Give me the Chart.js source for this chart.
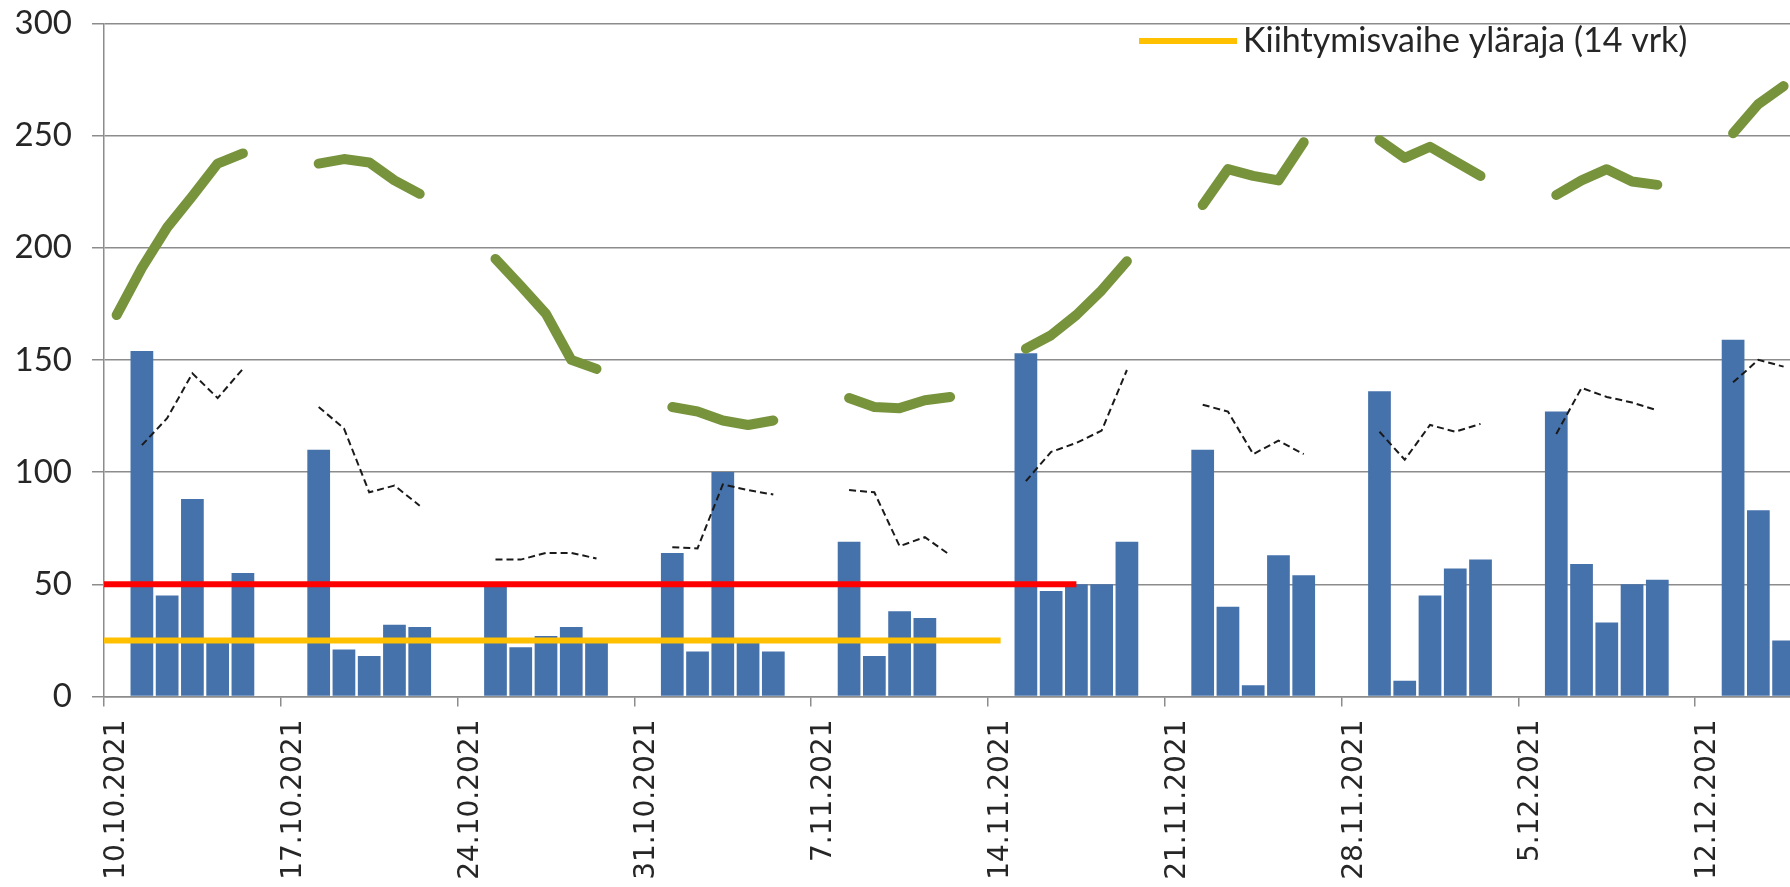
<!DOCTYPE html>
<html>
<head>
<meta charset="utf-8">
<script src="https://cdn.jsdelivr.net/npm/chart.js@4.4.1/dist/chart.umd.min.js"></script>
<style>
  html, body { margin: 0; padding: 0; overflow: hidden; background: #fff; }
  #wrap { position: absolute; left: 0; top: 0; }
</style>
</head>
<body>
<div id="wrap"><canvas id="myChart" width="1880" height="887"></canvas></div>
<script>
// päivittäiset arvot alkaen 10.10.2021 (null = ei arvoa)
var startDate = '10.10.2021';
var weekLabels = ['10.10.2021', '17.10.2021', '24.10.2021', '31.10.2021', '7.11.2021',
                  '14.11.2021', '21.11.2021', '28.11.2021', '5.12.2021', '12.12.2021', '19.12.2021'];

var cases = [
  null, 154, 45, 88, 24, 55, null,     // 10.10.
  null, 110, 21, 18, 32, 31, null,     // 17.10.
  null, 50, 22, 27, 31, 25, null,      // 24.10.
  null, 64, 20, 100, 25, 20, null,     // 31.10.
  null, 69, 18, 38, 35, null, null,    // 7.11.
  null, 153, 47, 50, 50, 69, null,     // 14.11.
  null, 110, 40, 5, 63, 54, null,      // 21.11.
  null, 136, 7, 45, 57, 61, null,      // 28.11.
  null, 127, 59, 33, 50, 52, null,     // 5.12.
  null, 159, 83, 25                    // 12.12.
];
var incidence14 = [
  170, 191, 209, 223, 237.5, 242, null,
  null, 237.5, 239.5, 238, 230, 224, null,
  null, 195, 183, 170.5, 150, 146, null,
  null, 129, 127, 123, 121, 123, null,
  null, 133, 129, 128.5, 132, 133.5, null,
  null, 155, 161, 170, 181, 194, null,
  null, 219, 235, 232, 230, 247, null,
  null, 248, 240, 245, 238.5, 232, null,
  null, 223.5, 230, 235, 229.5, 228, null,
  null, 251, 264, 272
];
var incidence7 = [
  null, 112, 124, 144, 133, 146, null,
  null, 129, 119.5, 91, 94, 85, null,
  null, 61, 61, 64, 64, 61.5, null,
  null, 66.5, 66, 94.5, 92, 90, null,
  null, 92, 91, 67, 71, 63, null,
  null, 96, 109, 113, 118.5, 145.5, null,
  null, 130, 127, 108, 114, 108, null,
  null, 118, 105.5, 121, 118, 121.5, null,
  null, 117, 137.5, 133.5, 131, 127.5, null,
  null, 140, 150, 147
];
var redDates = ['9.10.2021', '17.11.2021'];
var redValues = [50, 50];
var yellowDates = ['9.10.2021', '14.11.2021'];
var yellowValues = [25, 25];

var canvasW = 1880, yAxisW = 104, padRight = 8, padTop = 23.3, xAxisH = 190.5;
var nDays = 70;
var dayPx = (canvasW - yAxisW - padRight) / nDays;
var gridColor = '#8c8c8c';
var textColor = '#262626';

function dayIndex(s) {
  var p = s.split('.'), q = startDate.split('.');
  return (Date.UTC(+p[2], p[1] - 1, +p[0]) - Date.UTC(+q[2], q[1] - 1, +q[0])) / 86400000;
}
function daily(arr, keepNull) {
  var out = [];
  arr.forEach(function (v, i) {
    if (v !== null || keepNull) out.push({ x: i + 0.5, y: v });
  });
  return out;
}
function limit(dates, values) {
  return dates.map(function (d, i) { return { x: dayIndex(d) + 0.5, y: values[i] }; });
}

var cornerLegend = {
  id: 'cornerLegend',
  afterDatasetsDraw: function (chart) {
    var ds = chart.data.datasets[1];
    var c = chart.ctx;
    c.save();
    c.strokeStyle = ds.borderColor;
    c.lineWidth = ds.borderWidth;
    c.beginPath();
    c.moveTo(1139, 41);
    c.lineTo(1237, 41);
    c.stroke();
    c.fillStyle = textColor;
    c.font = '34px Lato';
    c.textBaseline = 'alphabetic';
    c.fillText(ds.label, 1243, 52);
    c.restore();
  }
};

var ctx = document.getElementById('myChart');
var myChart = new Chart(ctx, {
  type: 'bar',
  data: {
    datasets: [
      {
        type: 'line', label: 'Leviämisvaihe (14 vrk)', data: limit(redDates, redValues),
        borderColor: '#FF0000', borderWidth: 6, pointRadius: 0, order: 1
      },
      {
        type: 'line', label: 'Kiihtymisvaihe yläraja (14 vrk)', data: limit(yellowDates, yellowValues),
        borderColor: '#FFC000', borderWidth: 6, pointRadius: 0, order: 2
      },
      {
        type: 'line', label: 'Ilmaantuvuus (14 vrk)', data: daily(incidence14, true),
        borderColor: '#77933C', borderWidth: 10, borderCapStyle: 'round', borderJoinStyle: 'round',
        pointRadius: 0, spanGaps: false, order: 3
      },
      {
        type: 'line', label: 'Ilmaantuvuus (7 vrk)', data: daily(incidence7, true),
        borderColor: '#1a1a1a', borderWidth: 2, borderDash: [7, 4],
        pointRadius: 0, spanGaps: false, order: 4
      },
      {
        type: 'bar', label: 'Tapaukset', data: daily(cases, false),
        backgroundColor: '#4672AC', barPercentage: 0.9, categoryPercentage: 1, order: 10
      }
    ]
  },
  options: {
    responsive: false,
    animation: false,
    layout: { padding: { top: padTop, right: padRight, bottom: 0, left: 0 } },
    plugins: { legend: { display: false }, tooltip: { enabled: false } },
    scales: {
      x: {
        type: 'linear', min: 0, max: nDays, offset: false,
        ticks: {
          stepSize: 7, autoSkip: false, maxRotation: 90, minRotation: 90,
          padding: 13, labelOffset: dayPx / 2, color: textColor,
          font: { family: 'DejaVu Sans', size: 28 },
          callback: function (v) { return weekLabels[v / 7]; }
        },
        grid: { offset: false, drawOnChartArea: false, drawTicks: true, tickLength: 10, color: gridColor, lineWidth: 1.5 },
        border: { color: gridColor, width: 1.5 },
        afterFit: function (s) { s.height = xAxisH; s.paddingLeft = 0; s.paddingRight = 0; }
      },
      y: {
        min: 0, max: 300,
        ticks: { stepSize: 50, padding: 20, color: textColor, font: { family: 'Lato', size: 33 } },
        grid: { color: gridColor, lineWidth: 1.5, tickLength: 12 },
        border: { color: gridColor, width: 1.5 },
        afterFit: function (s) { s.width = yAxisW; s.paddingTop = 0; s.paddingBottom = 0; }
      }
    }
  },
  plugins: [cornerLegend]
});
</script>
</body>
</html>
